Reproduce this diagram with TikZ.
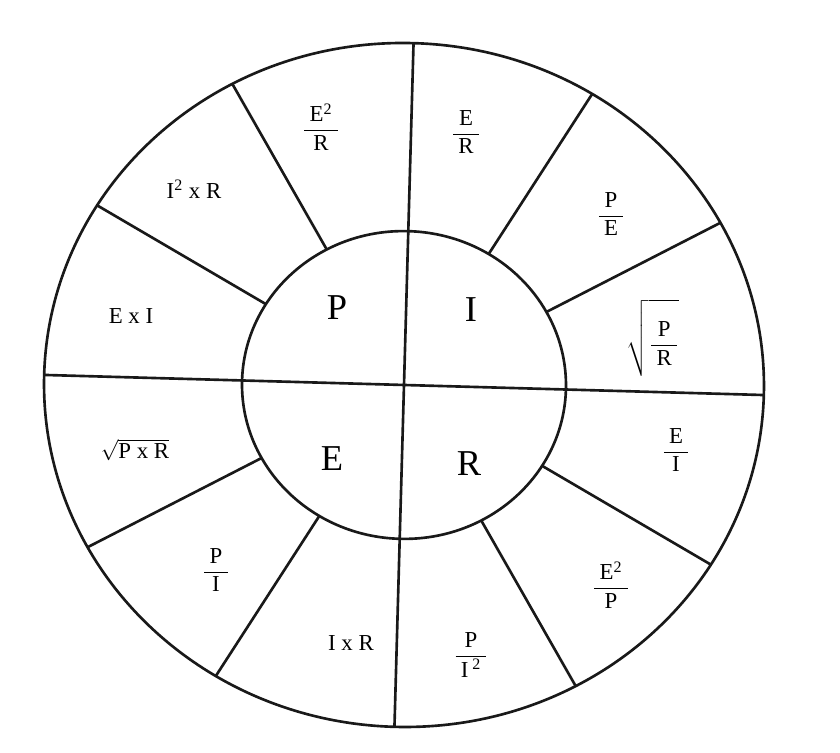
\documentclass[tikz,border=0pt]{standalone}
\usepackage{amsmath}
\usepackage{fontspec}
\setmainfont{Liberation Serif}
\usepackage{tikz}
\usetikzlibrary{calc}

\newcommand{\fr}[2]{\dfrac{\hspace{3pt}\textrm{#1}\hspace{3pt}}{\hspace{3pt}\textrm{#2}\hspace{3pt}}}

\begin{document}
\begin{tikzpicture}[
	x=0.02cm, y=0.02cm,
	wl/.style={line width=1.5pt, black!90},
	cell/.style={font=\fontsize{13}{15}\selectfont, inner sep=1pt},
	hub/.style={font=\huge, inner sep=1pt}
	]
	\useasboundingbox[fill=white] (0,0) rectangle (840,753);
	% wheel: outer rim, hub and the two diameters
	\begin{scope}[shift={(404,368)}, rotate=-1.6, yscale=0.95]
		\draw[wl] (0,0) circle (360);
		\draw[wl] (0,0) circle (162);
		\draw[wl] (0:360) -- (180:360);
		\draw[wl] (90:360) -- (270:360);
		% spokes of the outer ring
		\draw[wl] (30:162) -- (30:360);
		\draw[wl] (60:162) -- (60:360);
		\draw[wl] (120:162) -- (120:360);
		\draw[wl] (150:162) -- (150:360);
		\draw[wl] (210:162) -- (210:360);
		\draw[wl] (240:162) -- (240:360);
		\draw[wl] (300:162) -- (300:360);
		\draw[wl] (330:162) -- (330:360);
	\end{scope}
	% hub letters
	\node[hub] (hP) at (337,445) {P};
	\node[hub] (hI) at (471,443) {I};
	\node[hub] (hE) at (332,294) {E};
	\node[hub] (hR) at (469,289) {R};
	% P quadrant
	\node[cell] (E2R) at (321,626) {$\fr{E\textsuperscript{2}}{R}$};
	\node[cell] (I2R) at (194,564) {I\textsuperscript{2} x R};
	\node[cell] (ExI) at (131,437) {E x I};
	% I quadrant
	\node[cell] (EoR) at (466,621) {$\fr{E}{R}$};
	\node[cell] (PoE) at (611,539) {$\fr{P}{E}$};
	\node[cell] (sPR) at (653,415) {$\sqrt{\rule[-12pt]{0pt}{37pt}\fr{P}{R}}$};
	% R quadrant
	\node[cell] (EoI) at (676,303) {$\fr{E}{I}$};
	\node[cell] (E2P) at (611,168) {$\fr{E\textsuperscript{2}}{P}$};
	\node[cell] (PI2) at (471,98) {$\fr{P}{I\,\textsuperscript{2}}$};
	% E quadrant
	\node[cell] (IxR) at (351,110) {I x R};
	\node[cell] (PoI) at (216,183) {$\fr{P}{I}$};
	\node[cell] (sPxR) at (135,303) {$\sqrt{\textrm{P x R}}$};
\end{tikzpicture}
\end{document}
